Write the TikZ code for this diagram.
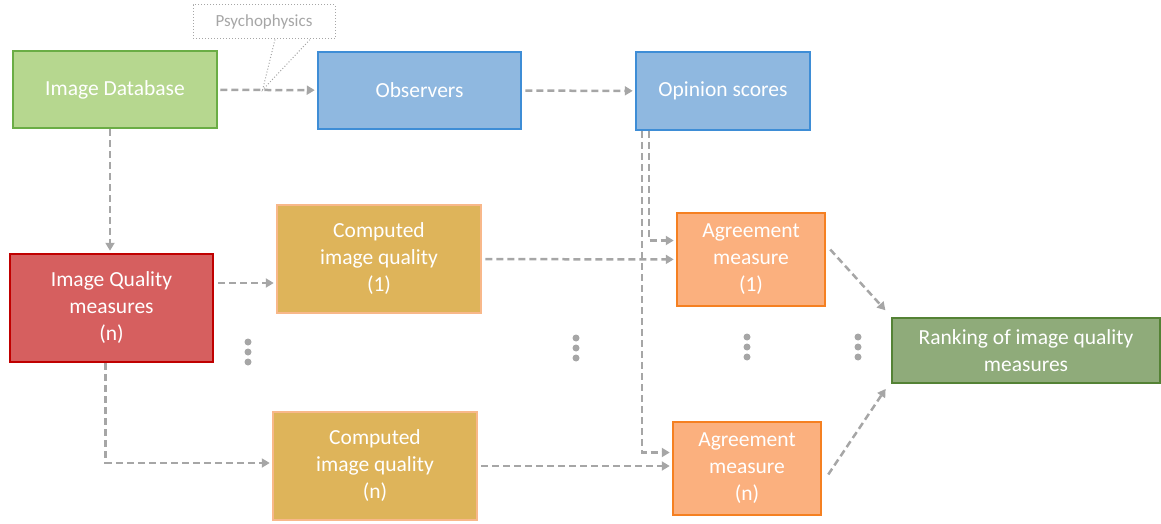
\documentclass[tikz,border=0pt]{standalone}
\usepackage{fontspec}
\setmainfont{Carlito}
\usetikzlibrary{arrows.meta,calc}

\definecolor{linkgray}{HTML}{A6A6A6}
\definecolor{dbfill}{HTML}{B6D78F}
\definecolor{dbline}{HTML}{6AAD45}
\definecolor{obsfill}{HTML}{8FB8E0}
\definecolor{obsline}{HTML}{3E8DD6}
\definecolor{iqmfill}{HTML}{D65F5F}
\definecolor{iqmline}{HTML}{C00000}
\definecolor{ciqfill}{HTML}{DEB45A}
\definecolor{ciqline}{HTML}{F8B88A}
\definecolor{agrfill}{HTML}{FBB07E}
\definecolor{agrline}{HTML}{F58021}
\definecolor{rankfill}{HTML}{8FAB7A}
\definecolor{rankline}{HTML}{548235}

\begin{document}
\begin{tikzpicture}[x=1pt,y=-1pt,
  box/.style={draw,line width=2.5pt,text=white,align=center,inner sep=0pt,
    font=\fontsize{21.5}{27}\selectfont},
  link/.style={draw=linkgray,line width=2.5pt,dash pattern=on 7pt off 4pt,
    shorten >=2pt,-{Triangle[length=8pt,width=9pt]}}]
\useasboundingbox (0,0) rectangle (1161,524);

\node[box,fill=dbfill,draw=dbline,minimum width=204pt,minimum height=77pt] (db) at (115,89.5) {Image Database};
\node[box,fill=obsfill,draw=obsline,minimum width=203pt,minimum height=77pt] (obs) at (419.5,90.5) {Observers};
\node[box,fill=obsfill,draw=obsline,minimum width=174pt,minimum height=78pt] (ops) at (723,91) {Opinion scores};

\node[box,fill=iqmfill,draw=iqmline,minimum width=203pt,minimum height=108pt] (iqm) at (111.5,308) {Image Quality\\measures\\(n)};
\node[box,fill=ciqfill,draw=ciqline,minimum width=204pt,minimum height=108pt] (ciq1) at (379,259) {Computed\\image quality\\(1)};
\node[box,fill=ciqfill,draw=ciqline,minimum width=204pt,minimum height=108pt] (ciqn) at (375,466) {Computed\\image quality\\(n)};

\node[box,fill=agrfill,draw=agrline,minimum width=148pt,minimum height=93pt] (agr1) at (751,259.5) {Agreement\\measure\\(1)};
\node[box,fill=agrfill,draw=agrline,minimum width=148pt,minimum height=93pt] (agrn) at (747,468.5) {Agreement\\measure\\(n)};
\node[box,fill=rankfill,draw=rankline,minimum width=268pt,minimum height=65pt] (rank) at (1026,350.5) {Ranking of image quality\\measures};

\node[draw=linkgray,dotted,line width=1pt,text=linkgray,minimum width=142pt,minimum height=34pt,inner sep=0pt,
  font=\fontsize{17}{20}\selectfont] (psy) at (264,22) {Psychophysics};

\draw[link,shorten <=2pt] (db) -- (obs);
\draw[link,shorten <=3pt] (obs) -- (ops);
\draw[link] ([xshift=-5pt]db.south) -- ([xshift=-5pt]db.south |- iqm.north);
\draw[link,shorten <=4pt] ([yshift=25pt]iqm.east) -- ([yshift=25pt]iqm.east -| ciq1.west);
\draw[link] ([xshift=-6pt]iqm.south) |- ([yshift=3pt]ciqn.west);
\draw[link,shorten <=3pt] (ciq1) -- (agr1);
\draw[link,shorten <=3pt] (ciqn.east) -- (ciqn.east -| agrn.west);

\draw[link] ([xshift=14pt]ops.south west) |- ([yshift=19pt]agr1.west);
\draw[link] ([xshift=7pt]ops.south west) |- ([yshift=16pt]agrn.west);

\draw[link] ([shift={(4pt,10pt)}]agr1.east) -- ([shift={(-4pt,5pt)}]rank.north west);
\draw[link] ([shift={(6pt,-6pt)}]agrn.east) -- ([shift={(-4pt,-3pt)}]rank.south west);

\coordinate (tip) at ($(db.east)!0.45!(obs.west)$);
\draw[dotted,linkgray,line width=1pt] ([xshift=11pt]psy.south) -- (tip) -- ([xshift=46pt]psy.south);

\foreach \x/\y in {248/342,576/338,747/337,858/337}
  \foreach \k in {0,1,2}
    \fill[linkgray] (\x,\y+10*\k) circle (3.5pt);
\end{tikzpicture}
\end{document}
